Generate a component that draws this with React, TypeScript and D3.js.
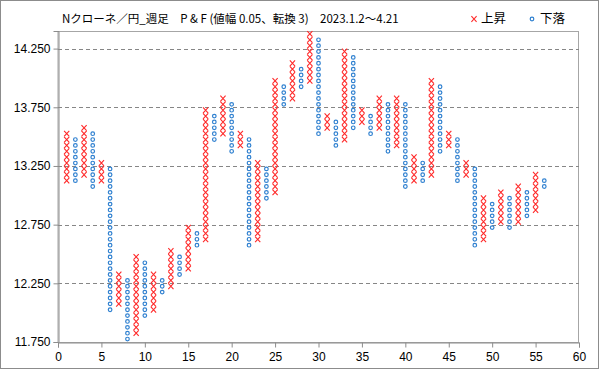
import React, { useEffect, useRef } from 'react';
import * as d3 from 'd3';

// P&F columns (box 0.05, reversal 3) – marks sit at box centres
const colTypes = ['X','O','X','O','X','O','X','O','X','O','X','O','X','O','X','O','X','O','X','O','X','O','X','O','X','O','X','O','X','O','X','O','X','O','X','O','X','O','X','O','X','O','X','O','X','O','X','O','X','O','X','O','X','O','X','O'];
const colHighs = [13.525, 13.475, 13.575, 13.525, 13.275, 13.225, 12.325, 12.275, 12.475, 12.425,
    12.325, 12.275, 12.525, 12.475, 12.725, 12.675, 13.725, 13.675, 13.825, 13.775,
    13.525, 13.475, 13.275, 13.225, 13.975, 13.925, 14.125, 14.075, 14.375, 14.325,
    13.675, 13.625, 14.225, 14.175, 13.725, 13.675, 13.825, 13.775, 13.825, 13.775,
    13.325, 13.275, 13.975, 13.925, 13.525, 13.475, 13.275, 13.225, 12.975, 12.925,
    13.025, 12.975, 13.075, 13.025, 13.175, 13.125];
const colLows = [13.125, 13.125, 13.175, 13.075, 13.125, 12.025, 12.075, 11.775, 11.825, 11.975,
    12.025, 12.175, 12.225, 12.325, 12.375, 12.575, 12.625, 13.475, 13.525, 13.375,
    13.425, 12.575, 12.625, 12.975, 13.025, 13.775, 13.825, 13.925, 13.975, 13.525,
    13.575, 13.425, 13.475, 13.575, 13.625, 13.525, 13.575, 13.375, 13.425, 13.075,
    13.125, 13.125, 13.175, 13.375, 13.425, 13.125, 13.175, 12.575, 12.625, 12.725,
    12.775, 12.725, 12.775, 12.825, 12.875, 13.075];

const boxSize = 0.05;
const yTicks = [11.75, 12.25, 12.75, 13.25, 13.75, 14.25];
const xTicks = [0, 5, 10, 15, 20, 25, 30, 35, 40, 45, 50, 55, 60];
const title = 'Nクローネ／円_週足　P & F (値幅 0.05、転換 3)　2023.1.2〜4.21';
const legendLabels = ['上昇', '下落'];

const RED = '#ff2a2a';
const BLUE = '#2f80d0';

const App: React.FC = () => {
    const svgRef = useRef<SVGSVGElement>(null);
    const width = 599;
    const height = 369;

    useEffect(() => {
        if (!svgRef.current) return;
        const svg = d3.select(svgRef.current);
        svg.selectAll('*').remove();

        const x = d3.scaleLinear().domain([0, 60]).range([58, 579]);
        const y = d3.scaleLinear().domain([11.75, 14.4]).range([342, 31]);

        // chart area border
        svg.append('rect')
            .attr('x', 0.5).attr('y', 0.5)
            .attr('width', width - 1).attr('height', height - 1)
            .attr('fill', '#fff').attr('stroke', '#8c8c8c');

        // plot area border
        svg.append('rect')
            .attr('x', x(0)).attr('y', y(14.4) + 0.5)
            .attr('width', x(60) - x(0) - 0.5).attr('height', y(11.75) - y(14.4))
            .attr('fill', 'none').attr('stroke', '#a6a6a6');

        // gridlines
        svg.append('g')
            .selectAll('line')
            .data(yTicks.slice(1))
            .enter()
            .append('line')
            .attr('x1', x(0)).attr('x2', x(60))
            .attr('y1', d => Math.round(y(d)) + 0.5).attr('y2', d => Math.round(y(d)) + 0.5)
            .attr('stroke', '#868686')
            .attr('stroke-dasharray', '4,3');

        const font = '"Liberation Sans", Arial, sans-serif';

        // y axis
        const yAxis = svg.append('g')
            .attr('transform', `translate(${x(0) + 0.5},0)`)
            .call(d3.axisLeft(y).tickValues(yTicks).tickFormat(d3.format('.3f')).tickSize(5).tickPadding(3));
        yAxis.select('.domain').attr('stroke', '#8c8c8c');
        yAxis.selectAll('.tick line').attr('stroke', '#8c8c8c');
        yAxis.selectAll('.tick text').attr('font-family', font).attr('font-size', 12).attr('fill', '#000');

        // x axis
        const xAxis = svg.append('g')
            .attr('transform', `translate(0,${Math.round(y(11.75)) + 0.5})`)
            .call(d3.axisBottom(x).tickValues(xTicks).tickSize(5).tickPadding(5));
        xAxis.select('.domain').attr('stroke', '#8c8c8c');
        xAxis.selectAll('.tick line').attr('stroke', '#8c8c8c');
        xAxis.selectAll('.tick text').attr('font-family', font).attr('font-size', 12).attr('fill', '#000');

        // build marks
        const marks: { col: number; v: number; t: string }[] = [];
        colTypes.forEach((t, i) => {
            const n = Math.round((colHighs[i] - colLows[i]) / boxSize) + 1;
            for (let k = 0; k < n; k++) marks.push({ col: i + 1, v: colLows[i] + k * boxSize, t });
        });

        const xs = marks.filter(m => m.t === 'X');
        const os = marks.filter(m => m.t === 'O');

        const drawX = (g: d3.Selection<SVGGElement, unknown, null, undefined>, cx: number, cy: number) => {
            g.append('path')
                .attr('d', `M${cx - 2.6},${cy - 2.8}L${cx + 2.6},${cy + 2.8}M${cx - 2.6},${cy + 2.8}L${cx + 2.6},${cy - 2.8}`)
                .attr('stroke', RED).attr('stroke-width', 1.1).attr('fill', 'none');
        };

        const gx = svg.append('g');
        xs.forEach(m => drawX(gx, x(m.col), y(m.v)));

        svg.append('g')
            .selectAll('circle')
            .data(os)
            .enter()
            .append('circle')
            .attr('cx', d => x(d.col))
            .attr('cy', d => y(d.v))
            .attr('r', 1.8)
            .attr('fill', '#fff')
            .attr('stroke', BLUE)
            .attr('stroke-width', 1.2);

        // title
        svg.append('text')
            .attr('x', 62).attr('y', 23)
            .attr('font-family', '"Noto Sans CJK JP", sans-serif')
            .attr('font-size', 11.5)
            .attr('fill', '#000')
            .text(title);

        // legend
        const lg = svg.append('g');
        drawX(lg as any, 474, 19);
        lg.append('text').attr('x', 481).attr('y', 23)
            .attr('font-family', '"Noto Sans CJK JP", sans-serif').attr('font-size', 12.5)
            .text(legendLabels[0]);
        lg.append('circle').attr('cx', 532).attr('cy', 19).attr('r', 1.8)
            .attr('fill', '#fff').attr('stroke', BLUE).attr('stroke-width', 1.2);
        lg.append('text').attr('x', 540).attr('y', 23)
            .attr('font-family', '"Noto Sans CJK JP", sans-serif').attr('font-size', 12.5)
            .text(legendLabels[1]);
    }, []);

    return (
        <div style={{ position: 'fixed', left: 0, top: 0 }}>
            <svg ref={svgRef} width={width} height={height} style={{ display: 'block' }} />
        </div>
    );
};

export default App;
